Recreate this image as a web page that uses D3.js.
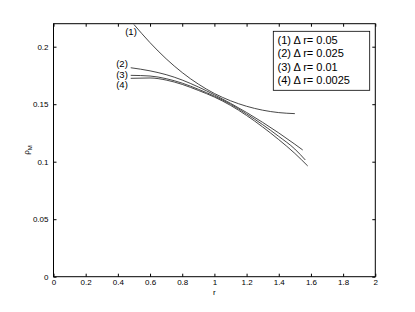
<!DOCTYPE html>
<html><head><meta charset="utf-8">
<script src="https://cdn.jsdelivr.net/npm/d3@7"></script>
<style>body{margin:0;background:#fff}svg{display:block}text{font-family:"Liberation Sans",Arial,sans-serif}</style>
</head><body>
<svg id="c" width="415" height="312"></svg>
<script>
const xTicks=[0,0.2,0.4,0.6,0.8,1,1.2,1.4,1.6,1.8,2];
const yTicks=[0,0.05,0.1,0.15,0.2];
const xTickLabels=["0","0.2","0.4","0.6","0.8","1","1.2","1.4","1.6","1.8","2"];
const yTickLabels=["0","0.05","0.1","0.15","0.2"];
const curveLabels=["(1)","(2)","(3)","(4)"];
const legendLabels=["(1) \u0394 r= 0.05","(2) \u0394 r= 0.025","(3) \u0394 r= 0.01","(4) \u0394 r= 0.0025"];
const r1=[0.5,0.6,0.7,0.8,0.9,1.0,1.1,1.2,1.3,1.4,1.5];
const s1=[0.2193,0.2035,0.1895,0.1775,0.1675,0.1593,0.1530,0.1482,0.1448,0.1427,0.1418];
const r2=[0.48,0.6,0.7,0.8,0.9,1.0,1.1,1.2,1.3,1.4,1.5,1.549];
const s2=[0.1817,0.1790,0.1757,0.1710,0.1650,0.1582,0.1508,0.1428,0.1342,0.1250,0.1152,0.1102];
const r3=[0.48,0.6,0.7,0.8,0.9,1.0,1.1,1.2,1.3,1.4,1.5,1.565];
const s3=[0.1751,0.1745,0.1722,0.1683,0.1630,0.1570,0.1500,0.1415,0.1322,0.1220,0.1110,0.1015];
const r4=[0.48,0.6,0.7,0.8,0.9,1.0,1.1,1.2,1.3,1.4,1.5,1.58];
const s4=[0.1725,0.1728,0.1710,0.1672,0.1620,0.1562,0.1490,0.1402,0.1302,0.1192,0.1072,0.0963];
const series=[[r1,s1],[r2,s2],[r3,s3],[r4,s4]];

const svg=d3.select("#c");
const L=53.5,R=375.3,T=23.7,B=276.7;
const x=d3.scaleLinear().domain([0,2]).range([L,R]);
const y=d3.scaleLinear().domain([0,0.22]).range([B,T]);
const g=svg.append("g");
g.append("rect").attr("x",L).attr("y",T).attr("width",R-L).attr("height",B-T).attr("fill","none").attr("stroke","#000").attr("stroke-width",1);
const tl=3;
const xb=d3.axisBottom(x).tickValues(xTicks).tickFormat((d,i)=>xTickLabels[i]).tickSizeInner(-tl).tickSizeOuter(0).tickPadding(3);
const xt=d3.axisTop(x).tickValues(xTicks).tickFormat("").tickSizeInner(-tl).tickSizeOuter(0);
const yl=d3.axisLeft(y).tickValues(yTicks).tickFormat((d,i)=>yTickLabels[i]).tickSizeInner(-tl).tickSizeOuter(0).tickPadding(5);
const yr=d3.axisRight(y).tickValues(yTicks).tickFormat("").tickSizeInner(-tl).tickSizeOuter(0);
[[xb,`translate(0,${B})`],[xt,`translate(0,${T})`],[yl,`translate(${L},0)`],[yr,`translate(${R},0)`]].forEach(([a,t])=>{
  const ax=g.append("g").attr("transform",t).call(a);
  ax.select(".domain").remove();
  ax.selectAll("line").attr("stroke","#000");
  ax.selectAll("text").attr("font-size",8).attr("fill","#000").attr("font-family","Liberation Sans, Arial, sans-serif");
});
const line=d3.line().x(d=>x(d[0])).y(d=>y(d[1])).curve(d3.curveMonotoneX);
series.forEach(([rs,ss])=>{
  g.append("path").datum(rs.map((r,i)=>[r,ss[i]])).attr("d",line).attr("fill","none").attr("stroke","#333").attr("stroke-width",0.9);
});
// curve labels
const labPos=[[131,31.7],[122,63.3],[122,75],[122,85]];
curveLabels.forEach((t,i)=>{
  g.append("text").attr("x",labPos[i][0]).attr("y",labPos[i][1]).attr("dy","0.35em").attr("text-anchor","middle").attr("font-size",9.5).text(t);
});
// legend
g.append("rect").attr("x",273.3).attr("y",31.3).attr("width",96.4).attr("height",59).attr("fill","#fff").attr("stroke","#000").attr("stroke-width",0.8);
legendLabels.forEach((t,i)=>{
  g.append("text").attr("x",277.5).attr("y",40.3+i*13.2).attr("dy","0.35em").attr("font-size",11).text(t);
});
// axis titles
g.append("text").attr("x",x(1)).attr("y",294.5).attr("text-anchor","middle").attr("font-size",8).text("r");
const yt=g.append("text").attr("transform","translate(29,150) rotate(-90)").attr("text-anchor","middle").attr("font-size",8);
yt.append("tspan").text("\u03c1");
yt.append("tspan").attr("font-size",6).attr("dy",3).text("M");
</script>
</body></html>
